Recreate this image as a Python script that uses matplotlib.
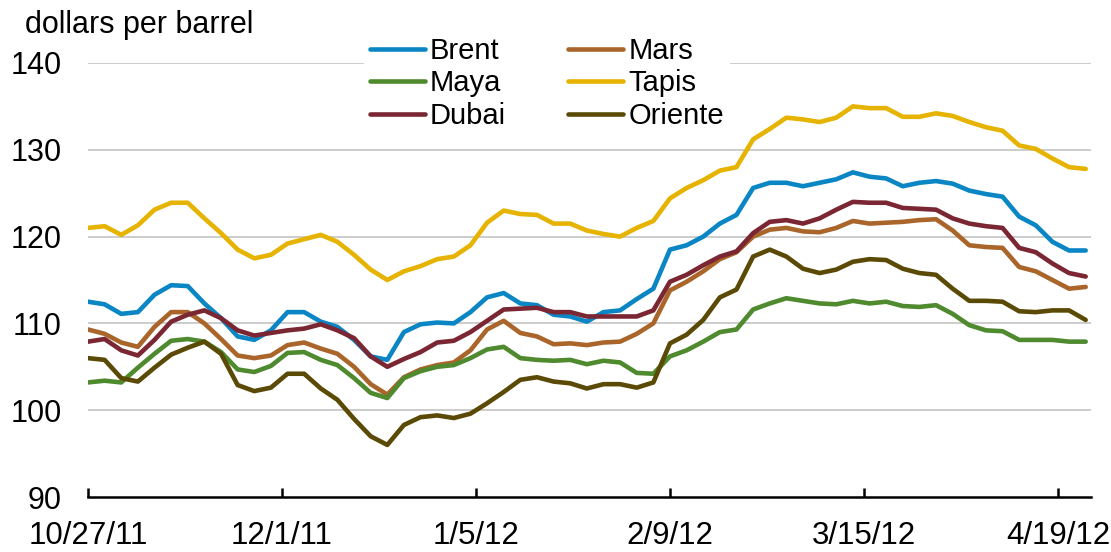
import numpy as np
import pandas as pd
import matplotlib
matplotlib.use("Agg")
import matplotlib.pyplot as plt
import matplotlib.dates as mdates
from matplotlib.ticker import FuncFormatter

plt.rcParams['font.family'] = ['Liberation Sans', 'DejaVu Sans']

# sampled every 3 calendar days from 10/27/11
dates = pd.date_range('2011-10-27', periods=61, freq='3D')

brent = [112.5, 112.2, 111.1, 111.3, 113.3, 114.4, 114.3, 112.3, 110.6, 108.5,
         108.1, 109.2, 111.3, 111.3, 110.2, 109.6, 108.1, 106.2, 105.8, 109.0,
         109.9, 110.1, 110.0, 111.3, 113.0, 113.5, 112.3, 112.1, 111.0, 110.8,
         110.2, 111.3, 111.5, 112.8, 114.0, 118.5, 119.0, 120.0, 121.5, 122.5,
         125.6, 126.2, 126.2, 125.8, 126.2, 126.6, 127.4, 126.9, 126.7, 125.8,
         126.2, 126.4, 126.1, 125.3, 124.9, 124.6, 122.3, 121.3, 119.4, 118.4,
         118.4]
mars = [109.3, 108.8, 107.8, 107.3, 109.6, 111.3, 111.3, 110.0, 108.2, 106.3,
        106.0, 106.3, 107.5, 107.8, 107.1, 106.5, 105.0, 103.0, 101.8, 103.8,
        104.7, 105.2, 105.5, 106.9, 109.3, 110.3, 108.9, 108.5, 107.6, 107.7,
        107.5, 107.8, 107.9, 108.8, 110.0, 113.8, 114.8, 116.0, 117.4, 118.2,
        120.0, 120.8, 121.0, 120.6, 120.5, 121.0, 121.8, 121.5, 121.6, 121.7,
        121.9, 122.0, 120.7, 119.0, 118.8, 118.7, 116.5, 116.0, 115.0, 114.0,
        114.2]
maya = [103.2, 103.4, 103.2, 104.9, 106.5, 108.0, 108.2, 107.9, 106.7, 104.7,
        104.4, 105.1, 106.6, 106.7, 105.8, 105.2, 103.7, 102.0, 101.4, 103.7,
        104.5, 105.0, 105.2, 106.0, 107.0, 107.3, 106.0, 105.8, 105.7, 105.8,
        105.3, 105.7, 105.5, 104.3, 104.2, 106.2, 106.9, 107.9, 109.0, 109.3,
        111.6, 112.3, 112.9, 112.6, 112.3, 112.2, 112.6, 112.3, 112.5, 112.0,
        111.9, 112.1, 111.1, 109.8, 109.2, 109.1, 108.1, 108.1, 108.1, 107.9,
        107.9]
tapis = [121.0, 121.2, 120.2, 121.3, 123.1, 123.9, 123.9, 122.1, 120.4, 118.5,
         117.5, 117.9, 119.2, 119.7, 120.2, 119.4, 117.9, 116.2, 115.0, 116.0,
         116.6, 117.4, 117.7, 119.0, 121.6, 123.0, 122.6, 122.5, 121.5, 121.5,
         120.7, 120.3, 120.0, 121.0, 121.8, 124.4, 125.6, 126.5, 127.6, 128.0,
         131.2, 132.4, 133.7, 133.5, 133.2, 133.7, 135.0, 134.8, 134.8, 133.8,
         133.8, 134.2, 133.9, 133.2, 132.6, 132.2, 130.5, 130.1, 129.0, 128.0,
         127.8]
dubai = [107.9, 108.2, 106.9, 106.3, 108.1, 110.2, 111.0, 111.5, 110.6, 109.2,
         108.6, 108.9, 109.2, 109.4, 109.9, 109.2, 108.3, 106.2, 105.0, 105.9,
         106.7, 107.8, 108.0, 109.0, 110.3, 111.6, 111.7, 111.8, 111.3, 111.3,
         110.8, 110.8, 110.8, 110.8, 111.5, 114.8, 115.6, 116.7, 117.7, 118.3,
         120.4, 121.7, 121.9, 121.5, 122.1, 123.1, 124.0, 123.9, 123.9, 123.3,
         123.2, 123.1, 122.1, 121.5, 121.2, 121.0, 118.7, 118.2, 116.9, 115.8,
         115.4]
oriente = [106.0, 105.8, 103.7, 103.3, 104.9, 106.4, 107.2, 107.9, 106.5, 102.9,
           102.2, 102.6, 104.2, 104.2, 102.5, 101.2, 99.0, 97.0, 96.0, 98.3,
           99.2, 99.4, 99.1, 99.6, 100.8, 102.1, 103.5, 103.8, 103.3, 103.1,
           102.5, 103.0, 103.0, 102.6, 103.2, 107.7, 108.7, 110.4, 113.0, 113.9,
           117.7, 118.5, 117.7, 116.3, 115.8, 116.2, 117.1, 117.4, 117.3, 116.3,
           115.8, 115.6, 114.0, 112.6, 112.6, 112.5, 111.4, 111.3, 111.5, 111.5,
           110.4]

series = [
    ("Brent", brent, "#0b86c4"),
    ("Mars", mars, "#a9652a"),
    ("Maya", maya, "#4f8a2f"),
    ("Tapis", tapis, "#e5b300"),
    ("Dubai", dubai, "#7a2633"),
    ("Oriente", oriente, "#5b4a05"),
]

tick_dates = pd.to_datetime(['2011-10-27', '2011-12-01', '2012-01-05',
                             '2012-02-09', '2012-03-15', '2012-04-19'])

fig = plt.figure(figsize=(11.11, 5.52), dpi=100)
ax = fig.add_axes([0.0792, 0.0996, 0.903, 0.7863])

lines = {}
for name, vals, col in series:
    ln, = ax.plot(dates, vals, color=col, linewidth=3.3, label=name,
                  solid_joinstyle='round', solid_capstyle='round')
    lines[name] = ln

ax.set_ylim(90, 140)
ax.set_yticks([90, 100, 110, 120, 130, 140])
ax.set_xlim(pd.Timestamp('2011-10-27'), pd.Timestamp('2012-04-25'))
ax.set_xticks(tick_dates)
ax.xaxis.set_major_formatter(FuncFormatter(
    lambda v, p: (lambda d: f"{d.month}/{d.day}/{d.year % 100}")(mdates.num2date(v))))

ax.grid(axis='y', color='#bfbfbf', linewidth=1.1)
ax.set_axisbelow(True)
for s in ['left', 'right', 'top']:
    ax.spines[s].set_visible(False)
ax.spines['bottom'].set_linewidth(1.8)
ax.tick_params(axis='x', direction='in', length=6.5, width=1.8, pad=17.5, labelsize=22.5)
ax.tick_params(axis='y', length=0, pad=19, labelsize=22)
ax.yaxis.get_gridlines()[0].set_visible(False)

order = ["Brent", "Maya", "Dubai", "Mars", "Tapis", "Oriente"]
leg = fig.legend([lines[n] for n in order], order, ncol=2, loc='upper left',
                 bbox_to_anchor=(0.3276, 0.944), fontsize=21, frameon=True,
                 facecolor='white', edgecolor='none', framealpha=1,
                 handlelength=1.88, handletextpad=0.17, columnspacing=2.15,
                 labelspacing=0.155, borderpad=0.2, borderaxespad=0)

fig.text(25 / 1111, 1 - 10 / 552, "dollars per barrel", fontsize=22, ha='left', va='top')

fig.savefig("out.png", dpi=100)
